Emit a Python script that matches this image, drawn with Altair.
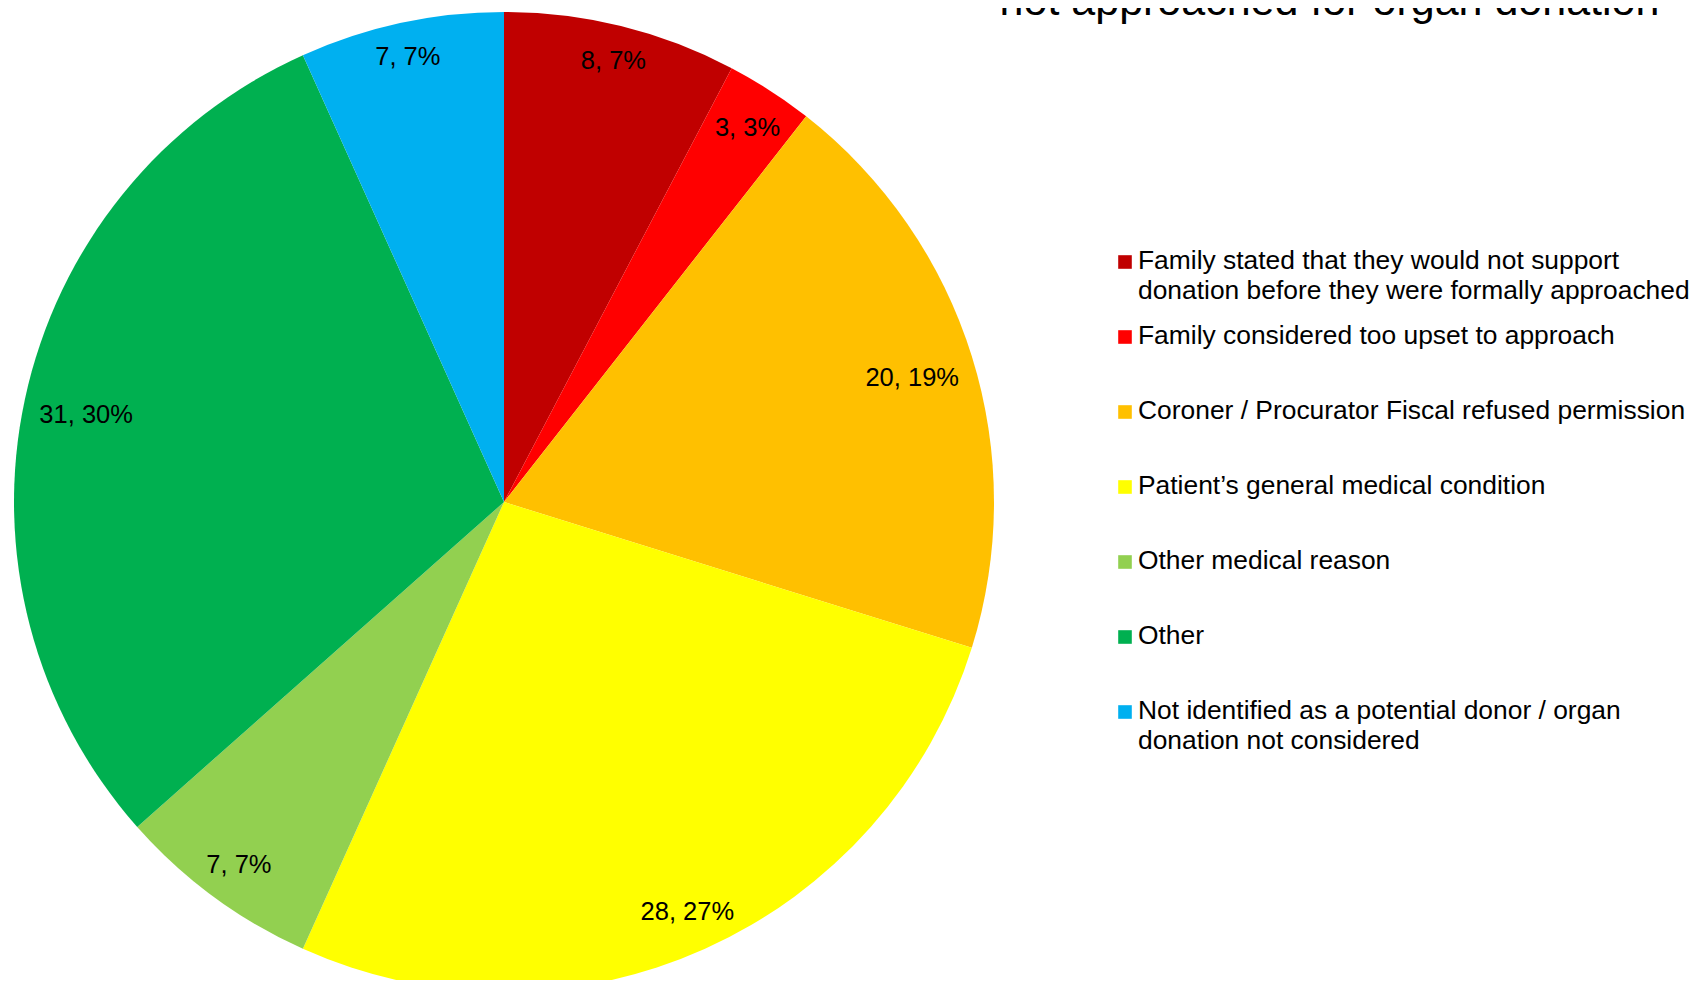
import altair as alt
import pandas as pd

categories = [
    "Family stated that they would not support donation before they were formally approached",
    "Family considered too upset to approach",
    "Coroner / Procurator Fiscal refused permission",
    "Patient\u2019s general medical condition",
    "Other medical reason",
    "Other",
    "Not identified as a potential donor / organ donation not considered",
]
legend_text = [
    "Family stated that they would not support\ndonation before they were formally approached",
    "Family considered too upset to approach",
    "Coroner / Procurator Fiscal refused permission",
    "Patient\u2019s general medical condition",
    "Other medical reason",
    "Other",
    "Not identified as a potential donor / organ\ndonation not considered",
]
values = [8, 3, 20, 28, 7, 31, 7]
labels = ["8, 7%", "3, 3%", "20, 19%", "28, 27%", "7, 7%", "31, 30%", "7, 7%"]
colors = ["#C00000", "#FF0000", "#FFC000", "#FFFF00", "#92D050", "#00B050", "#00B0F0"]
title_text = "not approached for organ donation"

FONT = "Liberation Sans, Arial, sans-serif"

df = pd.DataFrame({
    "idx": list(range(len(categories))),
    "category": categories,
    "value": values,
    "label": labels,
    "legend": legend_text,
})

base = alt.Chart(df)
color = alt.Color("category:N", scale=alt.Scale(domain=categories, range=colors), legend=None)

CX, CY, R = 496, 494, 490

pie = base.mark_arc().encode(
    theta=alt.Theta("value:Q", stack=True),
    order=alt.Order("idx:Q"),
    color=color,
    x=alt.value(CX),
    y=alt.value(CY),
    radius=alt.value(R),
)

slice_labels = base.transform_joinaggregate(
    total="sum(value)"
).transform_window(
    cum="sum(value)", sort=[alt.SortField("idx")], frame=[None, 0]
).transform_calculate(
    mid="(datum.cum - datum.value/2) / datum.total * 2 * PI",
).transform_calculate(
    r=f"{R} - 15 - length(datum.label) * 6.65 * abs(sin(datum.mid)) - 10 * abs(cos(datum.mid))",
).transform_calculate(
    px=f"{CX} + datum.r * sin(datum.mid)",
    py=f"{CY} - datum.r * cos(datum.mid)",
).mark_text(font=FONT, fontSize=25.5, color="black", align="center", baseline="middle", dy=3).encode(
    x=alt.X("px:Q", scale=None, axis=None),
    y=alt.Y("py:Q", scale=None, axis=None),
    text="label:N",
)

legend_sq = base.transform_calculate(
    sy="254 + 75 * datum.idx"
).mark_square(size=185, filled=True, opacity=1).encode(
    x=alt.value(1117),
    y=alt.Y("sy:Q", scale=None, axis=None),
    color=color,
)

legend_txt = base.transform_calculate(
    ty="261 + 75 * datum.idx",
    lines="split(datum.legend, '\\n')",
).mark_text(font=FONT, fontSize=26.4, lineHeight=30, color="black", align="left", baseline="alphabetic").encode(
    x=alt.value(1130),
    y=alt.Y("ty:Q", scale=None, axis=None),
    text="lines:N",
)

title = alt.Chart(pd.DataFrame({"t": [title_text]})).mark_text(
    font=FONT, fontSize=43, color="black", align="center", baseline="alphabetic"
).encode(
    x=alt.value(1321.5),
    y=alt.value(7),
    text="t:N",
)

chart = alt.layer(pie, slice_labels, legend_sq, legend_txt, title).properties(
    width=1682,
    height=972,
    autosize=alt.AutoSizeParams(type="none"),
    padding=0,
).configure_view(stroke=None)

chart.save("out.html", embed_options={"renderer": "svg", "actions": False})
